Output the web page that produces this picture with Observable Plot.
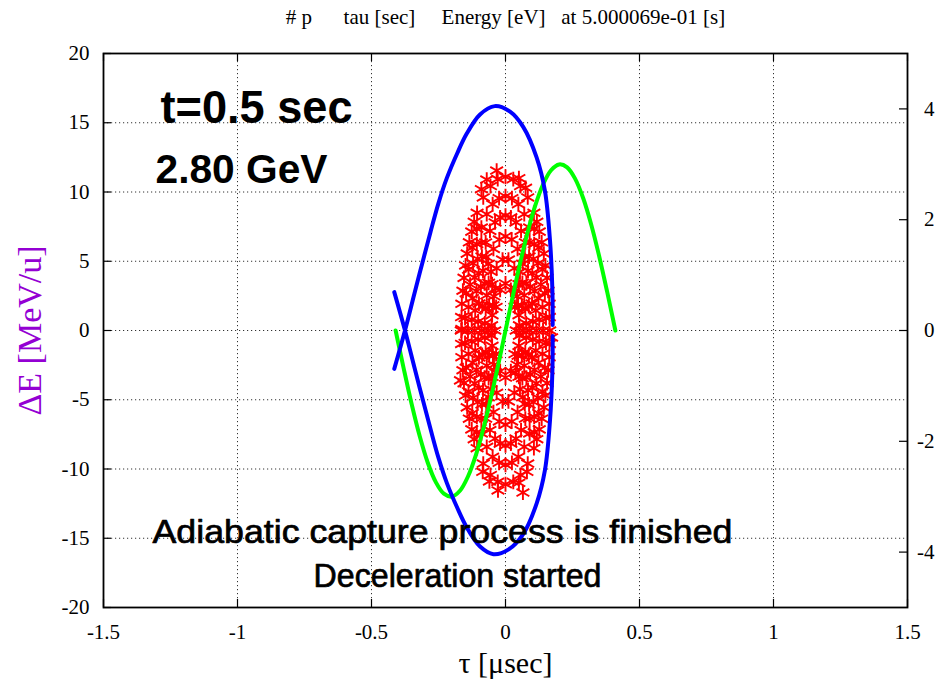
<!DOCTYPE html>
<html>
<head>
<meta charset="utf-8">
<script src="https://cdn.jsdelivr.net/npm/d3@7"></script>
<script src="https://cdn.jsdelivr.net/npm/@observablehq/plot@0.6"></script>
<style>
body { margin: 0; background: #fff; }
text { white-space: pre; }
</style>
</head>
<body>
<div id="chart"></div>
<script>
// ---------- texts ----------
const titleText = "# p      tau [sec]     Energy [eV]   at 5.000069e-01 [s]";
const xLabel = "τ [μsec]";
const yLabel = "ΔE [MeV/u]";
const noteTime = "t=0.5 sec";
const noteEnergy = "2.80 GeV";
const noteLine1 = "Adiabatic capture process is finished";
const noteLine2 = "Deceleration started";

// ---------- axes ----------
const xDomain = [-1.5, 1.5];
const yDomain = [-20, 20];
const y2Domain = [-5, 5];
const xTicks = [-1.5, -1, -0.5, 0, 0.5, 1, 1.5];
const yTicks = [-20, -15, -10, -5, 0, 5, 10, 15, 20];
const y2Ticks = [-4, -2, 0, 2, 4];

// ---------- series (tau [usec], dE [MeV/u]) ----------
const blueUpper = [[-0.415,-2.77],[-0.375,0],[-0.34,2.65],[-0.31,4.9],[-0.28,7.1],[-0.25,9.2],[-0.219,11.0],[-0.18,12.8],[-0.145,14.2],[-0.095,15.6],[-0.04,16.2],[0.017,15.8],[0.066,14.7],[0.116,12.5],[0.147,10.1],[0.166,6.5],[0.175,2.9],[0.176,0.4]];
const blueLower = [[-0.415,2.77],[-0.375,0],[-0.34,-2.65],[-0.31,-4.9],[-0.28,-7.1],[-0.25,-9.2],[-0.219,-11.0],[-0.18,-12.8],[-0.145,-14.2],[-0.095,-15.6],[-0.045,-16.15],[0.012,-15.8],[0.066,-14.7],[0.116,-12.5],[0.147,-10.1],[0.166,-6.5],[0.175,-2.9],[0.176,-0.4]];
const greenCurve = [[-0.41,0],[-0.38,-2.73],[-0.35,-5.33],[-0.32,-7.64],[-0.29,-9.55],[-0.26,-10.95],[-0.23,-11.78],[-0.2,-11.99],[-0.17,-11.57],[-0.14,-10.54],[-0.11,-8.96],[-0.08,-6.9],[-0.05,-4.48],[-0.02,-1.83],[0.02,1.83],[0.05,4.48],[0.08,6.9],[0.11,8.96],[0.14,10.54],[0.17,11.57],[0.2,11.99],[0.23,11.78],[0.26,10.95],[0.29,9.55],[0.32,7.64],[0.35,5.33],[0.38,2.73],[0.41,0]];

const redRing1 = [[0.165,0],[0.164,0.97],[0.163,1.93],[0.159,2.87],[0.155,3.8],[0.149,4.7],[0.143,5.55],[0.135,6.37],[0.126,7.14],[0.117,7.85],[0.106,8.5],[0.083,9.61],[0.056,10.43],[0.029,10.93],[0,11.1],
[-0.029,10.93],[-0.056,10.43],[-0.083,9.61],[-0.106,8.5],[-0.117,7.85],[-0.126,7.14],[-0.135,6.37],[-0.143,5.55],[-0.149,4.7],[-0.155,3.8],[-0.159,2.87],[-0.163,1.93],[-0.164,0.97],[-0.165,0],
[-0.164,-0.97],[-0.163,-1.93],[-0.159,-2.87],[-0.155,-3.8],[-0.149,-4.7],[-0.143,-5.55],[-0.135,-6.37],[-0.126,-7.14],[-0.117,-7.85],[-0.106,-8.5],[-0.083,-9.61],[-0.056,-10.43],[-0.029,-10.93],[0,-11.1],
[0.029,-10.93],[0.056,-10.43],[0.083,-9.61],[0.106,-8.5],[0.117,-7.85],[0.126,-7.14],[0.135,-6.37],[0.143,-5.55],[0.149,-4.7],[0.155,-3.8],[0.159,-2.87],[0.163,-1.93],[0.164,-0.97]];
const redRing1b = [[0.151,0.9],[0.147,2.69],[0.138,4.4],[0.124,5.97],[0.107,7.35],[-0.151,0.9],[-0.147,2.69],[-0.138,4.4],[-0.124,5.97],[-0.107,7.35],
[-0.151,-0.9],[-0.147,-2.69],[-0.138,-4.4],[-0.124,-5.97],[-0.107,-7.35],[0.151,-0.9],[0.147,-2.69],[0.138,-4.4],[0.124,-5.97],[0.107,-7.35],
[-0.07,10.9],[0.05,11.0],[-0.09,10.2],[0.075,10.3],[-0.06,-10.9],[0.05,-11.0],[-0.085,-10.2],[0.08,-10.2]];
const redRing2 = [[0.14,0],[0.138,1.69],[0.132,3.32],[0.121,4.85],[0.107,6.24],[0.09,7.43],[0.07,8.4],[0.048,9.12],[0.024,9.55],[0,9.7],
[-0.024,9.55],[-0.048,9.12],[-0.07,8.4],[-0.09,7.43],[-0.107,6.24],[-0.121,4.85],[-0.132,3.32],[-0.138,1.69],[-0.14,0],
[-0.138,-1.69],[-0.132,-3.32],[-0.121,-4.85],[-0.107,-6.24],[-0.09,-7.43],[-0.07,-8.4],[-0.048,-9.12],[-0.024,-9.55],[0,-9.7],
[0.024,-9.55],[0.048,-9.12],[0.07,-8.4],[0.09,-7.43],[0.107,-6.24],[0.121,-4.85],[0.132,-3.32],[0.138,-1.69]];
const redRing2b = [[0.126,0.78],[0.123,2.33],[0.115,3.81],[0.104,5.17],[0.09,6.36],[-0.126,0.78],[-0.123,2.33],[-0.115,3.81],[-0.104,5.17],[-0.09,6.36],
[-0.126,-0.78],[-0.123,-2.33],[-0.115,-3.81],[-0.104,-5.17],[-0.09,-6.36],[0.126,-0.78],[0.123,-2.33],[0.115,-3.81],[0.104,-5.17],[0.09,-6.36]];
const redRing3 = [[0.115,0],[0.113,1.44],[0.108,2.84],[0.1,4.15],[0.088,5.34],[0.074,6.36],[0.058,7.19],[0.039,7.8],[0.02,8.17],[0,8.3],
[-0.02,8.17],[-0.039,7.8],[-0.058,7.19],[-0.074,6.36],[-0.088,5.34],[-0.1,4.15],[-0.108,2.84],[-0.113,1.44],[-0.115,0],
[-0.113,-1.44],[-0.108,-2.84],[-0.1,-4.15],[-0.088,-5.34],[-0.074,-6.36],[-0.058,-7.19],[-0.039,-7.8],[-0.02,-8.17],[0,-8.3],
[0.02,-8.17],[0.039,-7.8],[0.058,-7.19],[0.074,-6.36],[0.088,-5.34],[0.1,-4.15],[0.108,-2.84],[0.113,-1.44]];
const redRing3b = [[0.102,0.65],[0.099,1.94],[0.092,3.17],[0.084,4.31],[0.072,5.3],[-0.102,0.65],[-0.099,1.94],[-0.092,3.17],[-0.084,4.31],[-0.072,5.3],
[-0.102,-0.65],[-0.099,-1.94],[-0.092,-3.17],[-0.084,-4.31],[-0.072,-5.3],[0.102,-0.65],[0.099,-1.94],[0.092,-3.17],[0.084,-4.31],[0.072,-5.3]];
const redRing4 = [[0.09,0],[0.087,1.76],[0.078,3.4],[0.064,4.81],[0.045,5.89],[0.023,6.57],[0,6.8],
[-0.023,6.57],[-0.045,5.89],[-0.064,4.81],[-0.078,3.4],[-0.087,1.76],[-0.09,0],
[-0.087,-1.76],[-0.078,-3.4],[-0.064,-4.81],[-0.045,-5.89],[-0.023,-6.57],[0,-6.8],
[0.023,-6.57],[0.045,-5.89],[0.064,-4.81],[0.078,-3.4],[0.087,-1.76]];
const redRing4b = [[0.077,0.52],[0.074,1.55],[0.07,2.54],[0.063,3.44],[0.054,4.24],[-0.077,0.52],[-0.074,1.55],[-0.07,2.54],[-0.063,3.44],[-0.054,4.24],
[-0.077,-0.52],[-0.074,-1.55],[-0.07,-2.54],[-0.063,-3.44],[-0.054,-4.24],[0.077,-0.52],[0.074,-1.55],[0.07,-2.54],[0.063,-3.44],[0.054,-4.24]];
const redRing5 = [[0.065,0],[0.061,1.78],[0.05,3.34],[0.033,4.5],[0.011,5.12],
[-0.011,5.12],[-0.033,4.5],[-0.05,3.34],[-0.061,1.78],[-0.065,0],
[-0.061,-1.78],[-0.05,-3.34],[-0.033,-4.5],[-0.011,-5.12],
[0.011,-5.12],[0.033,-4.5],[0.05,-3.34],[0.061,-1.78]];
const redRing5b = [[0.052,0.37],[0.05,1.11],[0.047,1.82],[0.043,2.47],[0.037,3.04],[-0.052,0.37],[-0.05,1.11],[-0.047,1.82],[-0.043,2.47],[-0.037,3.04],
[-0.052,-0.37],[-0.05,-1.11],[-0.047,-1.82],[-0.043,-2.47],[-0.037,-3.04],[0.052,-0.37],[0.05,-1.11],[0.047,-1.82],[0.043,-2.47],[0.037,-3.04]];
const redRing6 = [[0.04,0],[0.035,1.7],[0.02,2.94],[0,3.4],[-0.02,2.94],[-0.035,1.7],[-0.04,0],[-0.035,-1.7],[-0.02,-2.94],[0,-3.4],[0.02,-2.94],[0.035,-1.7]];
const redOutliers = [[-0.033,11.55],[-0.028,-11.55],[0.065,-11.7],[0.172,-0.5],[-0.163,0.1],[-0.168,-3.6]];

// ---------- build ----------
const W = 944, H = 684, mL = 103, mR = 37, mT = 53, mB = 77;
const fw = W - mL - mR, fh = H - mT - mB, tickLen = 8;
const y2ToY = v => yDomain[0] + (v - y2Domain[0]) * (yDomain[1] - yDomain[0]) / (y2Domain[1] - y2Domain[0]);
const toPts = arr => arr.map(([tau, dE]) => ({tau, dE}));
const redPts = toPts([...redRing1, ...redRing1b, ...redRing2, ...redRing2b, ...redRing3, ...redRing3b,
  ...redRing4, ...redRing4b, ...redRing5, ...redRing5b, ...redRing6, ...redOutliers]);
const serif = "'Liberation Serif', 'DejaVu Serif', serif";
const sans = "'Liberation Sans', Arial, sans-serif";
const grid = {stroke: "#333", strokeWidth: 1, strokeDasharray: "1.2,2.8"};

const chart = Plot.plot({
  width: W, height: H,
  marginLeft: mL, marginRight: mR, marginTop: mT, marginBottom: mB,
  x: {domain: xDomain, axis: null},
  y: {domain: yDomain, axis: null},
  style: {fontFamily: serif, background: "#fff", color: "#000"},
  marks: [
    Plot.ruleX(xTicks.slice(1, -1), grid),
    Plot.ruleY(yTicks.slice(1, -1), grid),
    Plot.dot(redPts, {x: "tau", y: "dE", symbol: "asterisk", r: 7, stroke: "#ff0000", strokeWidth: 1.9}),
    Plot.line(toPts(greenCurve), {x: "tau", y: "dE", stroke: "#00ff00", strokeWidth: 4, curve: "catmull-rom"}),
    Plot.line(toPts(blueUpper), {x: "tau", y: "dE", stroke: "#0000ff", strokeWidth: 4, curve: "catmull-rom"}),
    Plot.line(toPts(blueLower), {x: "tau", y: "dE", stroke: "#0000ff", strokeWidth: 4, curve: "catmull-rom"}),
    Plot.ruleX(xTicks, {insetTop: fh - tickLen, stroke: "#000", strokeWidth: 1.2}),
    Plot.ruleX(xTicks, {insetBottom: fh - tickLen, stroke: "#000", strokeWidth: 1.2}),
    Plot.ruleY(yTicks, {insetRight: fw - tickLen, stroke: "#000", strokeWidth: 1.2}),
    Plot.ruleY(y2Ticks, {y: y2ToY, insetLeft: fw - tickLen, stroke: "#000", strokeWidth: 1.2}),
    Plot.frame({stroke: "#000", strokeWidth: 1.8}),
    Plot.text(xTicks, {x: d => d, text: d => String(d), frameAnchor: "bottom", dy: 25, lineAnchor: "middle", fontSize: 21}),
    Plot.text(yTicks, {y: d => d, text: d => String(d), frameAnchor: "left", dx: -14, textAnchor: "end", lineAnchor: "middle", fontSize: 21}),
    Plot.text(y2Ticks, {y: y2ToY, text: d => String(d), frameAnchor: "right", dx: 27, textAnchor: "end", lineAnchor: "middle", fontSize: 21}),
    Plot.text([titleText], {frameAnchor: "top", dy: -36, textAnchor: "middle", lineAnchor: "middle", fontSize: 21}),
    Plot.text([xLabel], {frameAnchor: "bottom", dy: 56, textAnchor: "middle", lineAnchor: "middle", fontSize: 30}),
    Plot.text([yLabel], {frameAnchor: "left", dx: -73, rotate: -90, textAnchor: "middle", lineAnchor: "middle", fontSize: 34, fill: "#9400d3"}),
    Plot.text([noteTime], {frameAnchor: "top-left", dx: 153, dy: 55, textAnchor: "middle", lineAnchor: "middle", fontFamily: sans, fontWeight: "bold", fontSize: 46, fill: "#000"}),
    Plot.text([noteEnergy], {frameAnchor: "top-left", dx: 138, dy: 116, textAnchor: "middle", lineAnchor: "middle", fontFamily: sans, fontWeight: "bold", fontSize: 41, fill: "#000"}),
    Plot.text([noteLine1], {frameAnchor: "top-left", dx: 339, dy: 479, textAnchor: "middle", lineAnchor: "middle", fontFamily: sans, fontSize: 34, fill: "#000", stroke: "#000", strokeWidth: 0.7}),
    Plot.text([noteLine2], {frameAnchor: "top-left", dx: 354, dy: 523, textAnchor: "middle", lineAnchor: "middle", fontFamily: sans, fontSize: 34, fill: "#000", stroke: "#000", strokeWidth: 0.7})
  ]
});

// stretch the annotation texts to the widths they have in the reference
const fitWidths = new Map([[noteTime, 192], [noteEnergy, 172], [noteLine1, 580], [noteLine2, 288]]);
d3.select(chart).selectAll("text").each(function () {
  const w = fitWidths.get(this.textContent);
  if (w) { this.setAttribute("textLength", w); this.setAttribute("lengthAdjust", "spacingAndGlyphs"); }
});
document.getElementById("chart").appendChild(chart);
</script>
</body>
</html>
